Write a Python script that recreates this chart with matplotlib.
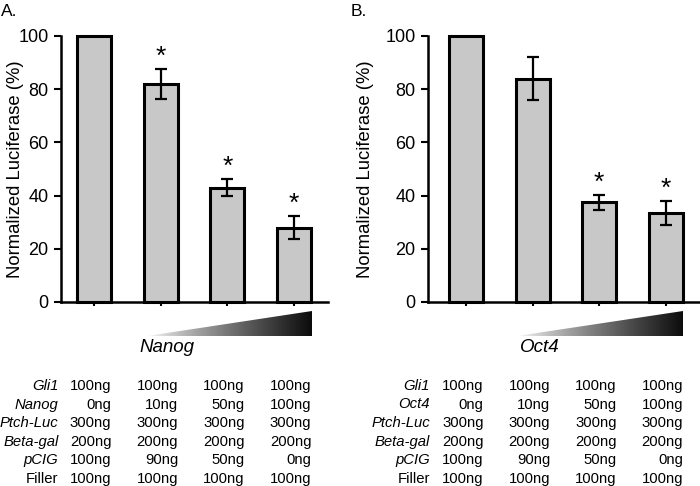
import matplotlib
matplotlib.use("Agg")
import matplotlib.pyplot as plt
import numpy as np
from matplotlib.transforms import blended_transform_factory
from matplotlib.patches import Polygon

plt.rcParams['font.family'] = ['Liberation Sans', 'DejaVu Sans']

# ---- data ----
conditions = [0, 1, 2, 3]
nanog_vals = [100, 82, 43, 28]
nanog_err = [0, 5.7, 3.3, 4.3]
nanog_sig = [False, True, True, True]
oct4_vals = [100, 84, 37.5, 33.5]
oct4_err = [0, 8.2, 2.8, 4.6]
oct4_sig = [False, False, True, True]
yticks = [0, 20, 40, 60, 80, 100]

row_labels = ["Gli1", "GENE", "Ptch-Luc", "Beta-gal", "pCIG", "Filler"]
row_italic = [True, True, True, True, True, False]
gli1_amt = ["100ng", "100ng", "100ng", "100ng"]
gene_amt = ["0ng", "10ng", "50ng", "100ng"]
ptch_amt = ["300ng", "300ng", "300ng", "300ng"]
betagal_amt = ["200ng", "200ng", "200ng", "200ng"]
pcig_amt = ["100ng", "90ng", "50ng", "0ng"]
filler_amt = ["100ng", "100ng", "100ng", "100ng"]
table_rows = [gli1_amt, gene_amt, ptch_amt, betagal_amt, pcig_amt, filler_amt]

W, H = 700, 486
fig = plt.figure(figsize=(W / 100, H / 100), dpi=100)

def frac_rect(x0, x1, ytop, ybot):
    return [x0 / W, 1 - ybot / H, (x1 - x0) / W, (ybot - ytop) / H]

row_y = [386, 404.5, 423, 441.5, 460, 478.5]

def panel(x0, x1, xlim, vals, errs, sig, gene, letter, letter_x, label_x, tri_x,
          ylab_right):
    ax = fig.add_axes(frac_rect(x0, x1, 36, 302))
    ax.bar(conditions, vals, width=0.51, color="#c8c8c8", edgecolor="black",
           linewidth=2.2, clip_on=False, zorder=2)
    for i, (v, e) in enumerate(zip(vals, errs)):
        if e > 0:
            ax.errorbar(conditions[i], v, yerr=e, fmt="none", ecolor="black",
                        elinewidth=1.6, capsize=4, capthick=1.6, zorder=3)
        if sig[i]:
            ax.text(conditions[i], v + e + 4.5, "*", ha="center", va="center",
                    fontsize=19)
    ax.set_xlim(*xlim)
    ax.set_ylim(0, 100)
    ax.set_yticks(yticks)
    ax.set_xticks(conditions)
    ax.set_xticklabels([])
    for s in ["top", "right"]:
        ax.spines[s].set_visible(False)
    for s in ["left", "bottom"]:
        ax.spines[s].set_linewidth(1.8)
    ax.tick_params(axis="y", direction="out", length=5, width=1.5,
                   labelsize=13, pad=4)
    ax.tick_params(axis="x", direction="out", length=3, width=1.5)
    ax.set_ylabel("Normalized Luciferase (%)", fontsize=13.3)
    ax.yaxis.set_label_coords((ylab_right - x0) / (x1 - x0), 0.5)

    fig.text(letter_x / W, 1 - 12 / H, letter, fontsize=12.5, ha="left",
             va="center")

    tr = blended_transform_factory(ax.transData, fig.transFigure)
    # gradient triangle
    tx0, tx1 = tri_x
    p0 = ax.transData.transform((tx0, 0))[0]
    p1 = ax.transData.transform((tx1, 0))[0]
    tax = fig.add_axes(frac_rect(p0, p1, 311, 336))
    tax.set_xlim(0, 1)
    tax.set_ylim(0, 1)
    tax.axis("off")
    grad = np.linspace(0, 1, 256).reshape(1, -1) ** 0.8
    im = tax.imshow(grad, extent=[0, 1, 0, 1], aspect="auto", cmap="gray_r",
                    vmin=0, vmax=1.05, origin="lower")
    tri = Polygon([(0, 0), (1, 0), (1, 1)], closed=True, transform=tax.transData,
                  facecolor="none", edgecolor="none")
    tax.add_patch(tri)
    im.set_clip_path(tri)

    ax.text(1.1, 1 - 348 / H, gene, transform=tr, ha="center",
            va="center", fontsize=13.5, style="italic")

    # table
    for r, (lab, it, vals_r) in enumerate(zip(row_labels, row_italic, table_rows)):
        y = 1 - row_y[r] / H
        text = gene if lab == "GENE" else lab
        fig.text(label_x / W, y, text, ha="right", va="center", fontsize=10.7,
                 style="italic" if it else "normal")
        for c, t in zip(conditions, vals_r):
            ax.text(c + 0.26, y, t, transform=tr, ha="right", va="center",
                    fontsize=10.7)
    return ax

panel(61, 328, (-0.495, 3.51), nanog_vals, nanog_err, nanog_sig, "Nanog", "A.", 1,
      58.5, (0.795, 3.27), 24)
panel(428, 700, (-0.575, 3.515), oct4_vals, oct4_err, oct4_sig, "Oct4", "B.", 351,
      430, (0.76, 3.26), 374)

fig.savefig("out.png", dpi=100)
